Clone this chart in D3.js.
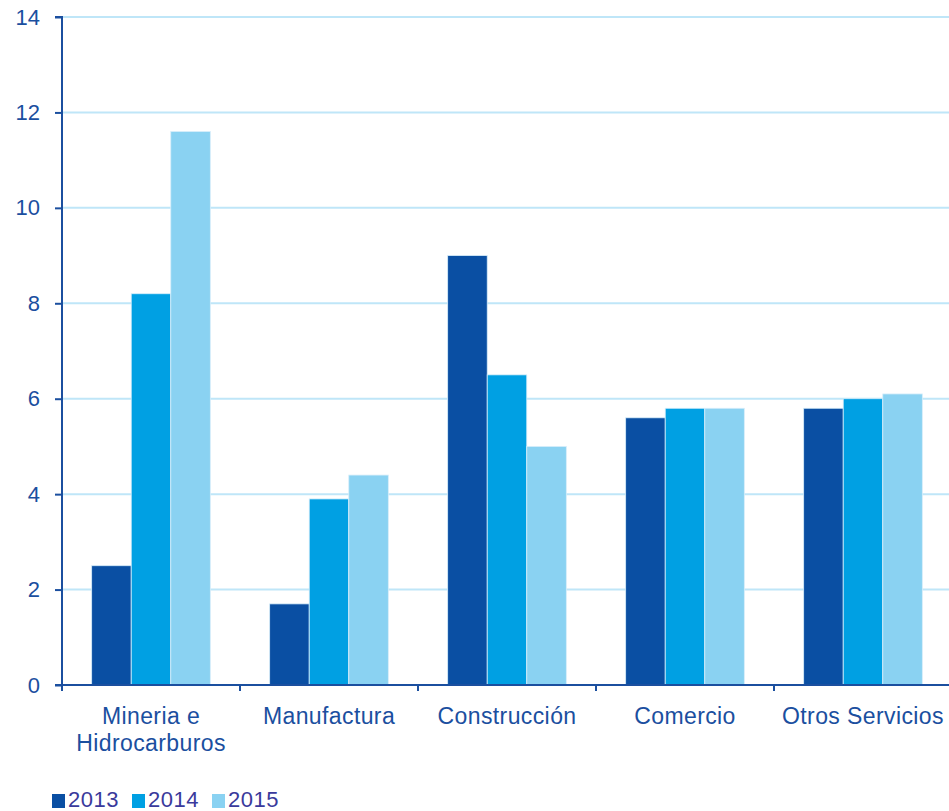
<!DOCTYPE html>
<html><head><meta charset="utf-8">
<script src="https://cdn.jsdelivr.net/npm/d3@7"></script>
<style>body{margin:0;background:#fff;}svg{display:block;font-family:"Liberation Sans",Arial,sans-serif;}</style>
</head><body>
<script>
const categories = ["Mineria e|Hidrocarburos","Manufactura","Construcción","Comercio","Otros Servicios"];
const years = ["2013","2014","2015"];
const v2013 = [2.5, 1.7, 9.0, 5.6, 5.8];
const v2014 = [8.2, 3.9, 6.5, 5.8, 6.0];
const v2015 = [11.6, 4.4, 5.0, 5.8, 6.1];
const yTicks = [0,2,4,6,8,10,12,14];
const colors = ["#0a4fa3","#00a0e3","#8ad2f2"];
const series = [v2013, v2014, v2015];

(function(){
const W = 949, H = 811;
const mLeft = 62, mRight = 952, mTop = 17, mBottom = 685;
const svg = d3.select("body").append("svg").attr("width", W).attr("height", H);

const x = d3.scaleBand().domain(categories).range([mLeft, mRight]).paddingInner(0).paddingOuter(0);
const x1 = d3.scaleBand().domain(years).range([0, x.bandwidth()]).paddingInner(0).paddingOuter(0.75);
const y = d3.scaleLinear().domain([0,14]).range([mBottom, mTop]);

// gridlines
svg.append("g").selectAll("line").data(yTicks.filter(d=>d>0)).join("line")
  .attr("x1", mLeft).attr("x2", W).attr("y1", d=>y(d)).attr("y2", d=>y(d))
  .attr("stroke", "#bfe6f8").attr("stroke-width", 2);

// bars
const g = svg.append("g");
categories.forEach((c, i) => {
  years.forEach((yr, j) => {
    g.append("rect")
      .attr("x", x(c) + x1(yr))
      .attr("y", y(series[j][i]))
      .attr("width", x1.bandwidth())
      .attr("height", y(0) - y(series[j][i]))
      .attr("fill", colors[j])
      .attr("stroke", "#d8eefa").attr("stroke-width", 0.8);
  });
});

const axisColor = "#1b4f9f";
// y axis
const yAxis = d3.axisLeft(y).tickValues(yTicks).tickSize(7).tickPadding(15);
const ya = svg.append("g").attr("transform", `translate(${mLeft},0)`).call(yAxis);
ya.select(".domain").attr("stroke", axisColor).attr("stroke-width", 2).attr("d", `M-7,${mTop}H0V${mBottom}`);
ya.selectAll(".tick line").attr("stroke", axisColor).attr("stroke-width", 2);
ya.selectAll(".tick text").attr("fill", axisColor).attr("font-size", 22).attr("font-family", "Liberation Sans, Arial, sans-serif");

// x axis
const xTickPos = d3.range(0, 6).map(i => mLeft + i * x.step());
svg.append("line").attr("x1", mLeft - 7).attr("x2", W).attr("y1", mBottom).attr("y2", mBottom)
  .attr("stroke", axisColor).attr("stroke-width", 2);
svg.append("g").selectAll("line").data(xTickPos).join("line")
  .attr("x1", d=>d).attr("x2", d=>d).attr("y1", mBottom).attr("y2", mBottom + 6)
  .attr("stroke", axisColor).attr("stroke-width", 2);

// category labels
categories.forEach(c => {
  const lines = c.split("|");
  const t = svg.append("text").attr("text-anchor", "middle").attr("fill", axisColor)
    .attr("font-size", 23).attr("letter-spacing", 0.4).attr("x", x(c) + x.bandwidth()/2).attr("y", 724);
  lines.forEach((l, k) => t.append("tspan").attr("x", x(c) + x.bandwidth()/2).attr("dy", k === 0 ? 0 : 27).text(l));
});

// legend
const legX = [52, 132, 212];
years.forEach((yr, j) => {
  svg.append("rect").attr("x", legX[j]).attr("y", 794).attr("width", 13).attr("height", 14).attr("fill", colors[j]);
  svg.append("text").attr("x", legX[j] + 16).attr("y", 807).attr("fill", "#3a3a9c").attr("font-size", 22).attr("letter-spacing", 0.5).text(yr);
});
})();
</script>
</body></html>
